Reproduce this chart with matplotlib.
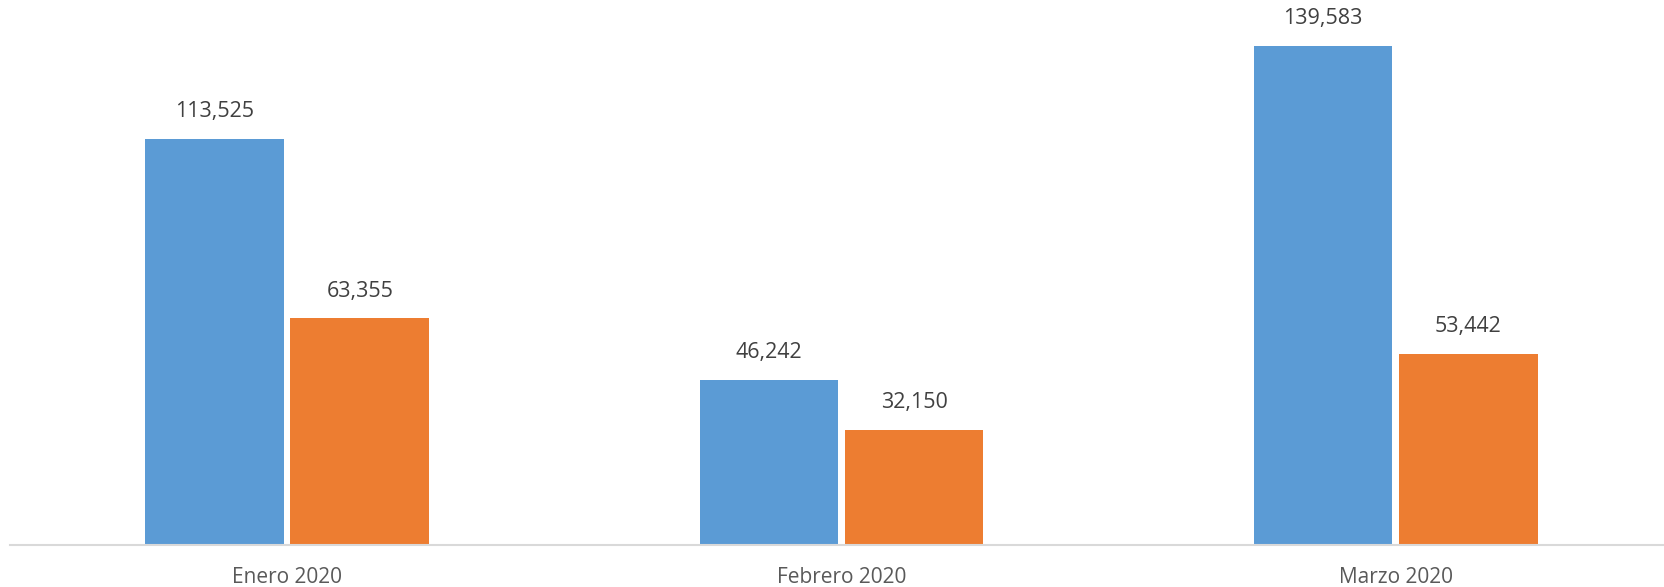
import matplotlib
matplotlib.use("Agg")
import matplotlib.pyplot as plt
import numpy as np

categories = ["Enero 2020", "Febrero 2020", "Marzo 2020"]
series_a = [113525, 46242, 139583]
series_b = [63355, 32150, 53442]
colors = ["#5B9BD5", "#ED7D31"]

W, H = 1665, 587
fig = plt.figure(figsize=(W / 100, H / 100), dpi=100)
left_px, bottom_px, top_px = 10, 545, 0
cat_w_px = 554.3
ax = fig.add_axes([left_px / W, (H - bottom_px) / H, 3 * cat_w_px / W, (bottom_px - top_px) / H])

x = np.arange(len(categories))
bw = 0.25
off = 0.131
b1 = ax.bar(x - off, series_a, width=bw, color=colors[0], edgecolor="none")
b2 = ax.bar(x + off, series_b, width=bw, color=colors[1], edgecolor="none")

ax.set_xlim(-0.5, 2.5)
ax.set_ylim(0, bottom_px / 3.576e-3)

font = "Open Sans"
for bars, vals in ((b1, series_a), (b2, series_b)):
    for rect, v in zip(bars, vals):
        ax.annotate(f"{v:,}", (rect.get_x() + rect.get_width() / 2, v),
                    xytext=(0, 12), textcoords="offset points",
                    ha="center", va="bottom", fontsize=15.5, color="#404040",
                    family=font)

for s in ("top", "right", "left"):
    ax.spines[s].set_visible(False)
ax.spines["bottom"].set_color("#D9D9D9")
ax.spines["bottom"].set_linewidth(1.5)
ax.set_yticks([])
ax.set_xticks(x)
ax.set_xticklabels(categories, family=font, fontsize=15, color="#595959")
ax.tick_params(axis="x", length=0, pad=16)

fig.savefig("out.png", dpi=100, facecolor="white")
